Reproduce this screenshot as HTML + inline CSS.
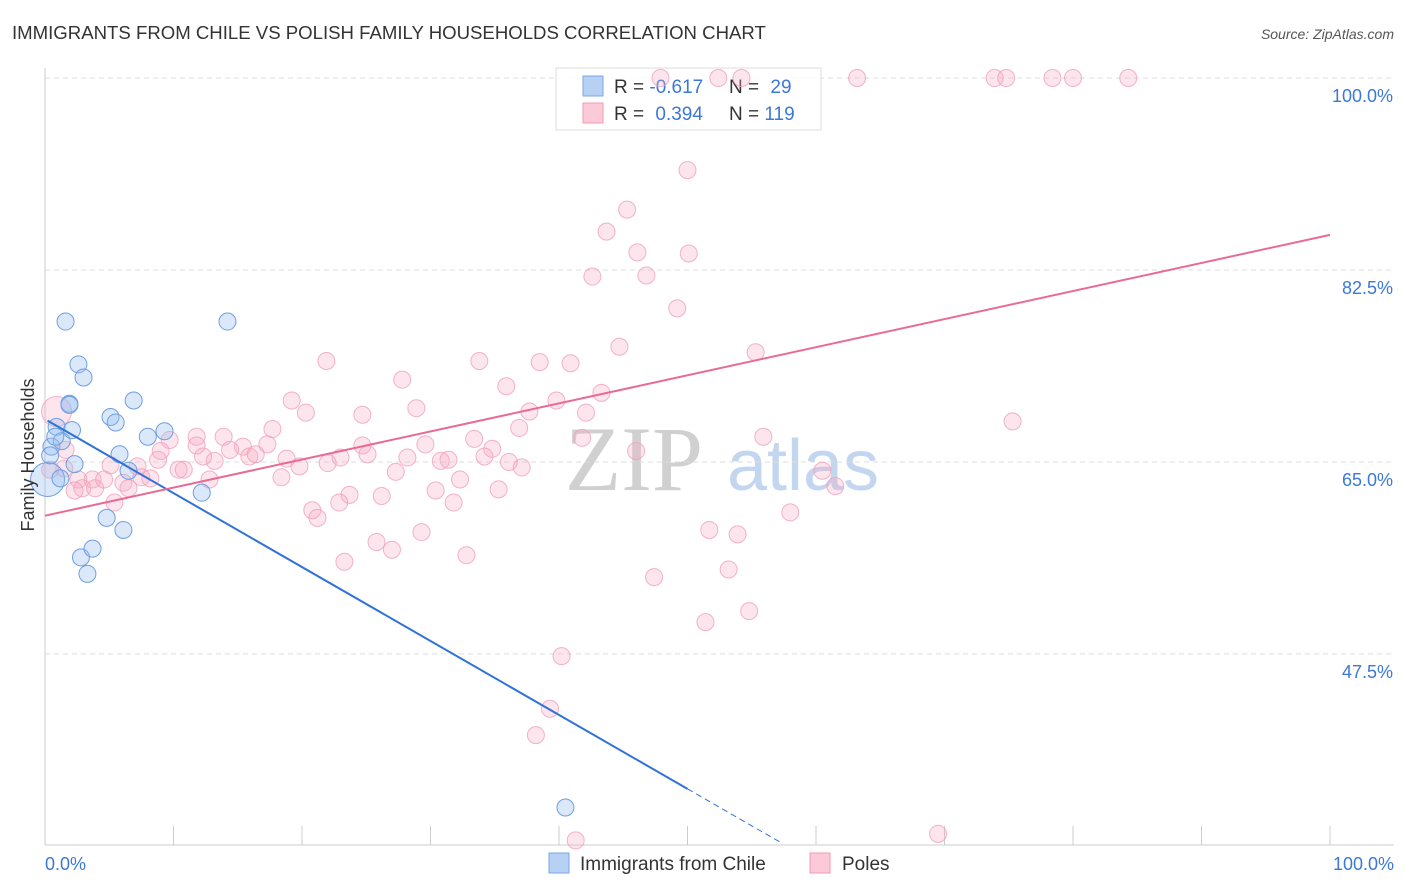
<!DOCTYPE html>
<html><head><meta charset="utf-8"><style>
body{margin:0;background:#fff;font-family:"Liberation Sans",sans-serif}
svg{display:block}
</style></head><body>
<svg id="chart" width="1406" height="892" xmlns="http://www.w3.org/2000/svg">
<text x="12" y="39" font-size="18.6" fill="#333">IMMIGRANTS FROM CHILE VS POLISH FAMILY HOUSEHOLDS CORRELATION CHART</text>
<text x="1394" y="39" font-size="14" fill="#555" font-style="italic" text-anchor="end">Source: ZipAtlas.com</text>
<text x="634" y="490" font-size="92" fill="#d0d0d0" font-family="Liberation Serif" text-anchor="middle">ZIP</text>
<text x="803" y="490" font-size="72" fill="#c3d6f0" text-anchor="middle">atlas</text>
<g id="grid"></g>
<g id="axes"></g>
<g>
<rect x="556" y="68" width="265" height="62" fill="rgba(255,255,255,0.85)" stroke="#ddd"/>
<rect x="583" y="76" width="20" height="20" fill="#b7d1f5" stroke="#7aa6e6"/>
<rect x="583" y="103" width="20" height="20" fill="#fcc9d8" stroke="#f09ab4"/>
<text x="614" y="93" font-size="19" fill="#333">R = <tspan fill="#3b78d8">-0.617</tspan></text>
<text x="729" y="93" font-size="19" fill="#333">N = <tspan fill="#3b78d8" dx="6">29</tspan></text>
<text x="614" y="120" font-size="19" fill="#333">R = <tspan fill="#3b78d8" dx="6">0.394</tspan></text>
<text x="729" y="120" font-size="19" fill="#333">N = <tspan fill="#3b78d8">119</tspan></text>
</g>
<g id="marks"></g>
<text transform="translate(34,455) rotate(-90)" font-size="18" fill="#333" text-anchor="middle">Family Households</text>
<g>
<rect x="549" y="853" width="20" height="20" fill="#b7d1f5" stroke="#7aa6e6"/>
<text x="580" y="870" font-size="19" fill="#333">Immigrants from Chile</text>
<rect x="810" y="853" width="20" height="20" fill="#fcc9d8" stroke="#f09ab4"/>
<text x="842" y="870" font-size="19" fill="#333">Poles</text>
</g>
</svg>
<script>
const yTicks=[100,82.5,65,47.5];
const yTickLabels=["100.0%","82.5%","65.0%","47.5%"];
const xTicks=[0,10,20,30,40,50,60,70,80,90,100];
const chileX=[0.2,0.5,0.9,1.3,1.6,1.9,2.1,2.3,2.6,3.0,5.1,5.5,5.8,6.5,6.9,8.0,9.3,4.8,6.1,2.8,3.7,3.3,12.2,14.2,40.5,1.2,0.4,0.8,1.9];
const chileY=[63.4,66.4,68.2,66.9,77.8,70.3,67.9,64.8,73.9,72.7,69.1,68.6,65.7,64.2,70.6,67.3,67.8,59.9,58.8,56.3,57.1,54.8,62.2,77.8,33.5,63.5,65.6,67.3,70.2];
const polesX=[47.9,52.4,54.2,63.2,73.9,74.8,78.4,80.0,84.3,50.0,45.3,43.7,46.1,50.1,42.6,46.8,49.2,44.7,55.3,21.9,33.8,38.5,40.9,27.8,35.9,43.3,19.2,39.8,28.9,20.3,24.7,37.7,42.1,75.3,17.7,36.9,55.9,41.8,11.8,13.9,46.0,9.7,29.6,33.4,34.8,11.8,15.4,17.3,24.7,9.0,14.4,12.3,15.9,16.4,18.8,22.0,28.2,23.0,25.1,30.8,31.4,34.2,36.1,37.1,8.8,13.2,19.8,10.4,10.8,27.3,18.4,32.3,60.5,61.5,7.2,5.1,7.5,8.2,1.5,2.6,3.7,2.9,3.9,2.3,4.6,6.1,6.5,5.4,12.8,23.7,22.9,26.2,30.4,31.8,35.3,20.8,21.2,25.8,27.0,29.3,23.3,32.8,51.7,53.9,58.0,53.2,47.4,54.8,51.4,40.2,39.3,38.2,41.3,69.5,0.9,1.6,0.4];
const polesY=[100,100,100,100,100,100,100,100,100,91.6,88.0,86.0,84.1,84.0,81.9,82.0,79.0,75.5,75.0,74.2,74.2,74.1,74.0,72.5,71.9,71.3,70.6,70.6,69.9,69.5,69.3,69.6,69.5,68.7,68.0,68.1,67.3,67.2,67.3,67.3,66.0,67.0,66.6,67.1,66.2,66.5,66.4,66.6,66.5,66.0,66.1,65.5,65.5,65.7,65.3,64.9,65.4,65.4,65.7,65.1,65.2,65.5,65.0,64.5,65.2,65.1,64.6,64.3,64.3,64.1,63.6,63.4,64.2,62.8,64.6,64.7,63.6,63.5,64.4,63.4,63.4,62.6,62.6,62.4,63.4,63.1,62.6,61.3,63.4,62.0,61.3,61.9,62.4,61.3,62.5,60.6,59.9,57.7,57.0,58.6,55.9,56.5,58.8,58.4,60.4,55.2,54.5,51.4,50.4,47.3,42.5,40.1,30.5,31.1,69.6,66.1,64.3];
const chileTrend=[68.9,-0.674];
const polesTrend=[60.1,0.256];
const NS="http://www.w3.org/2000/svg";
const X0=45,X1=1330,YTOP=78,PPU=10.97;
function sx(v){return X0+(X1-X0)*v/100;}
function sy(v){return YTOP+(100-v)*PPU;}
function mk(t,a,p){const e=document.createElementNS(NS,t);for(const k in a)e.setAttribute(k,a[k]);p.appendChild(e);return e;}
const grid=document.getElementById('grid'),axes=document.getElementById('axes'),marks=document.getElementById('marks');
yTicks.forEach((v,i)=>{
  const l=mk('line',{x1:X0,x2:1394,y1:sy(v),y2:sy(v),stroke:'#ddd','stroke-dasharray':'5,4'},grid);
  
  
  const t=mk('text',{x:1393,y:sy(v)+24,'font-size':18,fill:'#3b78d8','text-anchor':'end'},axes);
  t.textContent=yTickLabels[i];
  
  
});
const ax=mk('line',{x1:X0,x2:X0,y1:68,y2:845,stroke:'#ccc'},axes);


const bx=mk('line',{x1:X0,x2:1394,y1:845,y2:845,stroke:'#ccc'},axes);


xTicks.forEach(v=>{
  const l=mk('line',{x1:sx(v),x2:sx(v),y1:826,y2:845,stroke:'#ccc'},axes);
  
  
});
const xl=mk('text',{x:45,y:870,'font-size':18,fill:'#3b78d8'},axes);xl.textContent='0.0%';


const xr=mk('text',{x:1394,y:870,'font-size':18,fill:'#3b78d8','text-anchor':'end'},axes);xr.textContent='100.0%';


polesX.forEach((x,i)=>{
  const c=mk('circle',{cx:sx(x),cy:sy(polesY[i]),r:i===polesX.length-3?15:8.5,fill:'rgba(248,170,195,0.3)',stroke:'#f0a0b8','stroke-width':1,'stroke-opacity':0.8},marks);
  
  
});
chileX.forEach((x,i)=>{
  const c=mk('circle',{cx:sx(x),cy:sy(chileY[i]),r:i===0?17:8.5,fill:'rgba(150,190,240,0.35)',stroke:'#6f9fe0','stroke-width':1},marks);
  
  
});
const yEnd=30.3,xSolid=50;
const xEnd=(yEnd-chileTrend[0])/chileTrend[1];
const cl=mk('line',{x1:sx(0.2),y1:sy(chileTrend[0]+chileTrend[1]*0.2),x2:sx(xSolid),y2:sy(chileTrend[0]+chileTrend[1]*xSolid),stroke:'#2f72d8','stroke-width':2},marks);


const cd=mk('line',{x1:sx(xSolid),y1:sy(chileTrend[0]+chileTrend[1]*xSolid),x2:sx(xEnd),y2:sy(yEnd),stroke:'#2f72d8','stroke-width':1,'stroke-dasharray':'6,4'},marks);


const pl=mk('line',{x1:sx(0),y1:sy(polesTrend[0]),x2:sx(100),y2:sy(polesTrend[0]+polesTrend[1]*100),stroke:'#e86a95','stroke-width':2},marks);


</script>
</body></html>
